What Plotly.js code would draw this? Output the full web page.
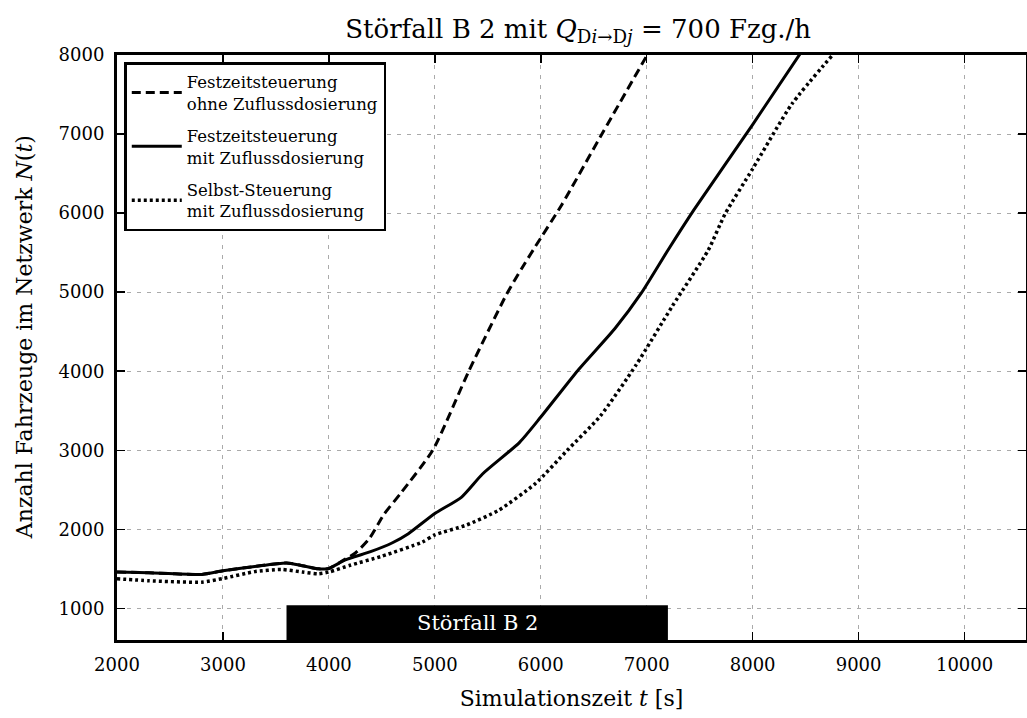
<!DOCTYPE html>
<html>
<head>
<meta charset="utf-8">
<script src="https://cdn.plot.ly/plotly-3.0.1.min.js"></script>
<style>html,body{margin:0;padding:0;background:#fff;}#chart{width:1027px;height:718px;}</style>
</head>
<body>
<div id="chart"></div>
<script>
// Festzeitsteuerung ohne Zuflussdosierung (dashed)
const timeFestOhne = [2000, 2300, 2800, 3000, 3300, 3600, 3750, 3900, 4000, 4150, 4250, 4380, 4520, 4680, 4980, 5320, 5680, 5820, 5950, 6200, 6560, 7030];
const nFestOhne    = [1460, 1450, 1430, 1475, 1530, 1575, 1540, 1500, 1505, 1620, 1700, 1880, 2190, 2460, 3000, 4000, 4980, 5300, 5580, 6110, 6960, 8060];

// Festzeitsteuerung mit Zuflussdosierung (solid)
const timeFestMit = [2000, 2300, 2800, 3000, 3300, 3600, 3750, 3900, 4000, 4150, 4400, 4600, 4750, 5000, 5250, 5450, 5800, 6000, 6350, 6700, 6950, 7200, 7450, 8000, 8470];
const nFestMit    = [1460, 1450, 1430, 1475, 1530, 1575, 1540, 1500, 1505, 1610, 1720, 1830, 1945, 2200, 2405, 2700, 3100, 3420, 4010, 4540, 4990, 5530, 6050, 7120, 8060];

// Selbst-Steuerung mit Zuflussdosierung (dotted)
const timeSelbst = [2000, 2300, 2800, 3000, 3300, 3550, 3750, 3900, 4000, 4200, 4500, 4880, 5000, 5300, 5600, 5950, 6250, 6560, 6900, 7240, 7580, 7740, 8000, 8370, 8780];
const nSelbst    = [1375, 1350, 1332, 1378, 1465, 1492, 1460, 1438, 1460, 1545, 1660, 1838, 1930, 2055, 2240, 2580, 3000, 3430, 4080, 4820, 5530, 5990, 6560, 7380, 8040];

const seriesNames = [
  "Festzeitsteuerung<br>ohne Zuflussdosierung",
  "Festzeitsteuerung<br>mit Zuflussdosierung",
  "Selbst-Steuerung<br>mit Zuflussdosierung"
];

// Störfall period
const storfallLabel = "Störfall B 2";
const storfallStart = 3600;
const storfallEnd = 7200;
const storfallTop = 1040;

const xTicks = [2000, 3000, 4000, 5000, 6000, 7000, 8000, 9000, 10000];
const yTicks = [1000, 2000, 3000, 4000, 5000, 6000, 7000, 8000];

const FONT = "DejaVu Serif";

const traces = [
  {x: timeFestOhne, y: nFestOhne, name: seriesNames[0], mode: "lines", legendgroup: "a",
   line: {color: "#000", width: 3, dash: "9px,5px", shape: "spline", smoothing: 0.6}},
  {x: timeFestMit, y: nFestMit, name: seriesNames[1], mode: "lines", legendgroup: "b",
   line: {color: "#000", width: 3, shape: "spline", smoothing: 0.6}},
  {x: timeSelbst, y: nSelbst, name: seriesNames[2], mode: "lines", legendgroup: "c",
   line: {color: "#000", width: 3.5, dash: "3px,3px", shape: "spline", smoothing: 0.6}}
];

const axisCommon = {
  showline: true, linecolor: "#000", linewidth: 3, mirror: "ticks",
  ticks: "inside", ticklen: 8, tickwidth: 1.5, tickcolor: "#000",
  showgrid: true, gridcolor: "#aaaaaa", gridwidth: 1, griddash: "4px,6px",
  zeroline: false,
  tickfont: {family: FONT, size: 18, color: "#000"}
};

const layout = {
  width: 1027, height: 718,
  margin: {l: 117, r: 1, t: 55, b: 78},
  paper_bgcolor: "#fff", plot_bgcolor: "#fff",
  font: {family: FONT, color: "#000"},
  title: {text: "Störfall B 2 mit <i>Q</i><sub>D<i>i</i>→D<i>j</i></sub> = 700 Fzg./h",
          font: {family: FONT, size: 26, color: "#000"}, x: 0.563, xanchor: "center", y: 0.96, yanchor: "middle"},
  xaxis: Object.assign({}, axisCommon, {
    range: [2000, 10580], tickvals: xTicks, ticktext: xTicks.map(String),
    ticklabelstandoff: 6,
    title: {text: "Simulationszeit <i>t</i> [s]", font: {family: FONT, size: 22, color: "#000"}, standoff: 18}
  }),
  yaxis: Object.assign({}, axisCommon, {
    range: [600, 8000], tickvals: yTicks, ticktext: yTicks.map(String),
    ticklabelstandoff: 6
  }),
  legend: {
    x: 0.008, y: 0.988, xanchor: "left", yanchor: "top",
    bgcolor: "#fff", bordercolor: "#000", borderwidth: 2.5,
    font: {family: FONT, size: 16.5, color: "#000"},
    tracegroupgap: 8, itemwidth: 50
  },
  shapes: [{
    type: "rect", xref: "x", yref: "y",
    x0: storfallStart, x1: storfallEnd, y0: 600, y1: storfallTop,
    fillcolor: "#000", line: {width: 0}, layer: "above"
  }],
  annotations: [{
    x: (storfallStart + storfallEnd) / 2, y: (600 + storfallTop) / 2,
    xref: "x", yref: "y", text: storfallLabel, showarrow: false,
    font: {family: FONT, size: 21, color: "#fff"}
  }, {
    x: -0.101, y: 0.518, xref: "paper", yref: "paper", xanchor: "center", yanchor: "middle",
    text: "Anzahl Fahrzeuge im Netzwerk <i>N</i>(<i>t</i>)", textangle: -90, showarrow: false,
    font: {family: FONT, size: 22, color: "#000"}
  }],
  showlegend: true
};

Plotly.newPlot("chart", traces, layout, {displayModeBar: false, staticPlot: true});
</script>
</body>
</html>
